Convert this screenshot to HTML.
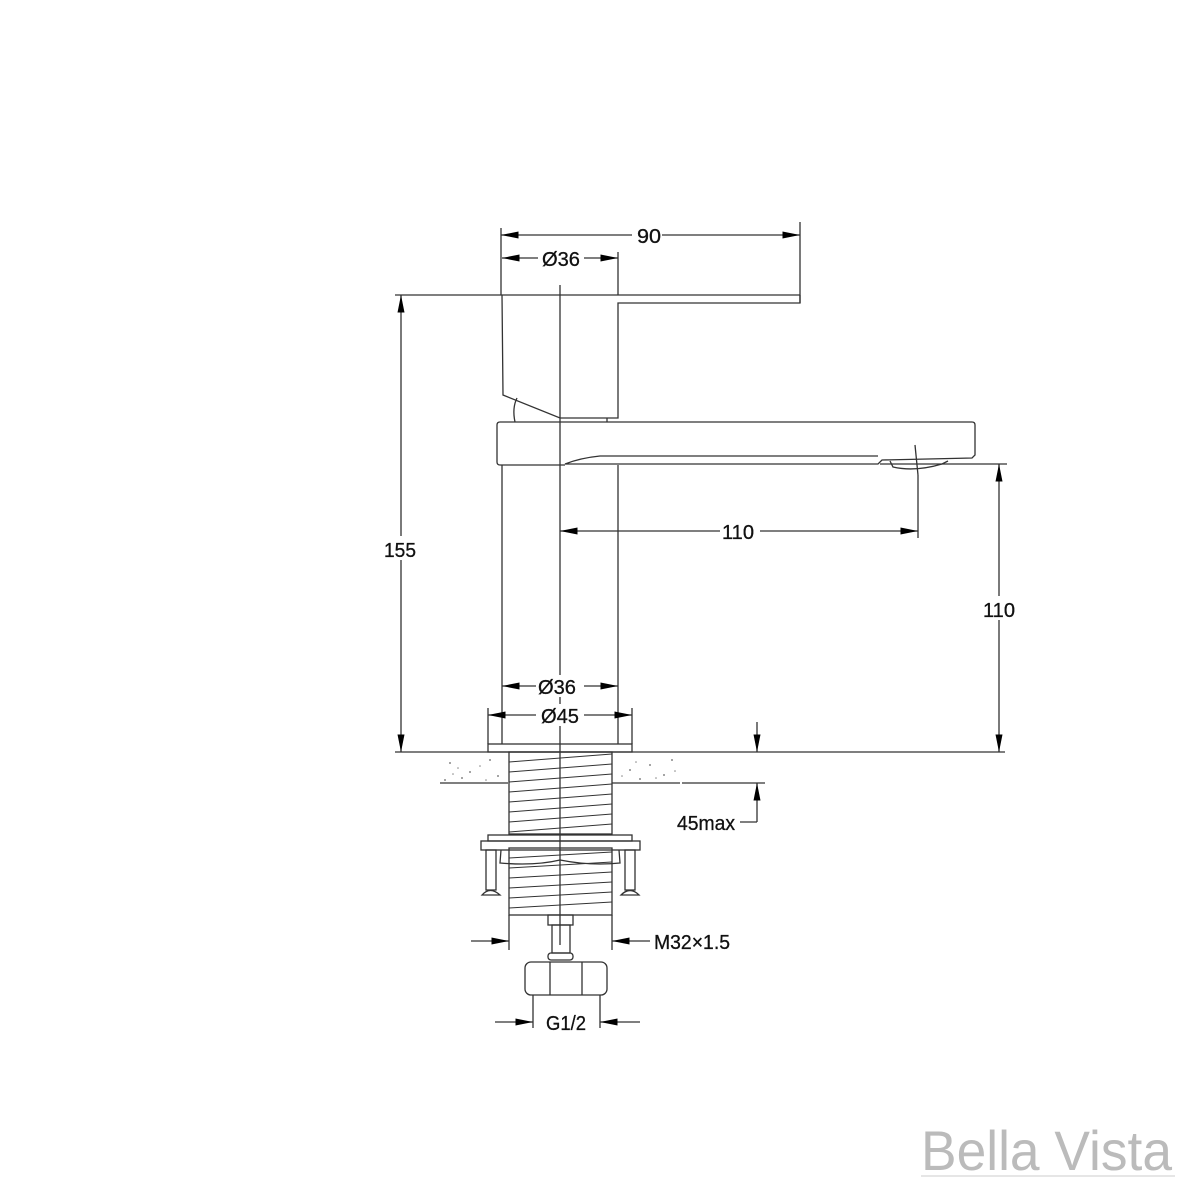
<!DOCTYPE html>
<html><head><meta charset="utf-8"><style>
html,body{margin:0;padding:0;background:#fff}
svg{display:block}
text{font-family:"Liberation Sans",Arial,sans-serif;fill:#111}
</style></head><body>
<svg width="1200" height="1200" viewBox="0 0 1200 1200" xmlns="http://www.w3.org/2000/svg">
<defs>
<marker id="a" viewBox="0 0 10 4" refX="10" refY="2" markerWidth="18" markerHeight="7" markerUnits="userSpaceOnUse" orient="auto-start-reverse"><path d="M0,0L10,2L0,4z" fill="#000"/></marker>
</defs>
<g stroke="#333" stroke-width="1.3" fill="none">
<line x1="395" y1="295" x2="800" y2="295"/>
<line x1="501" y1="228" x2="501" y2="295"/>
<line x1="800" y1="222" x2="800" y2="303"/>
<line x1="618" y1="252" x2="618" y2="295"/>
<path d="M502,295 L503,395 L560,418 L618,418 L618,303 L800,303 L800,295"/>
<path d="M515,422 Q512,408 517,398"/>
<line x1="607" y1="418" x2="607" y2="422"/>
<path d="M500,422 L972,422 Q975,422 975,425 L975,455 L972,458 L882,460 L878,464 L565,464 Q580,458 600,456 L878,456"/>
<path d="M500,422 Q497,422 497,425 L497,462 Q497,465 500,465 L565,465"/>
<path d="M890,461 L893,467 Q915,472 942,464 L948,461" />
<line x1="880" y1="464" x2="1007" y2="464"/>
<line x1="915" y1="445" x2="918" y2="475"/>
<line x1="502" y1="465" x2="502" y2="744"/>
<line x1="618" y1="465" x2="618" y2="744"/>
<rect x="488" y="744" width="144" height="8"/>
<line x1="560" y1="285" x2="560" y2="945"/>
<line x1="395" y1="752" x2="1005" y2="752"/>
<line x1="440" y1="783" x2="508" y2="783"/>
<line x1="612" y1="783" x2="680" y2="783"/>
<line x1="682" y1="783" x2="765" y2="783"/>
<rect x="509" y="752" width="103" height="82"/>
<rect x="509" y="848" width="103" height="67"/>
<g stroke-width="0.9">
<path d="M509,762L612,754M509,772L612,764M509,782L612,774M509,792L612,784M509,802L612,794M509,812L612,804M509,822L612,814M509,832L612,824M509,858L612,852M509,868L612,862M509,878L612,872M509,888L612,882M509,898L612,892M509,908L612,902"/>
</g>
<rect x="488" y="835" width="144" height="6"/>
<rect x="481" y="841" width="159" height="9"/>
<path d="M501,850 L500,863 Q535,866 560,860 Q590,866 620,863 L619,850"/>
<rect x="486" y="850" width="10" height="40"/><rect x="625" y="850" width="10" height="40"/>
<path d="M482,895 Q490,886 500,895 Z M621,895 Q630,886 639,895 Z"/>
<rect x="548" y="915" width="25" height="10"/>
<rect x="552" y="925" width="18" height="28"/>
<rect x="548" y="953" width="25" height="7" rx="3"/>
<rect x="525" y="962" width="82" height="33" rx="6"/>
<line x1="550" y1="962" x2="550" y2="995"/><line x1="582" y1="962" x2="582" y2="995"/>
<line x1="501" y1="235" x2="800" y2="235" marker-start="url(#a)" marker-end="url(#a)"/>
<line x1="502" y1="258" x2="618" y2="258" marker-start="url(#a)" marker-end="url(#a)"/>
<line x1="401" y1="295" x2="401" y2="752" marker-start="url(#a)" marker-end="url(#a)"/>
<line x1="560" y1="531" x2="918" y2="531" marker-start="url(#a)" marker-end="url(#a)"/>
<line x1="918" y1="475" x2="918" y2="538"/>
<line x1="999" y1="464" x2="999" y2="752" marker-start="url(#a)" marker-end="url(#a)"/>
<line x1="502" y1="686" x2="618" y2="686" marker-start="url(#a)" marker-end="url(#a)"/>
<line x1="488" y1="715" x2="632" y2="715" marker-start="url(#a)" marker-end="url(#a)"/>
<line x1="488" y1="708" x2="488" y2="744"/><line x1="632" y1="708" x2="632" y2="744"/>
<line x1="757" y1="722" x2="757" y2="752" marker-end="url(#a)"/>
<path d="M757,822 L757,783" marker-end="url(#a)"/>
<line x1="740" y1="822" x2="757" y2="822"/>
<line x1="471" y1="941" x2="509" y2="941" marker-end="url(#a)"/>
<line x1="650" y1="941" x2="612" y2="941" marker-end="url(#a)"/>
<line x1="509" y1="915" x2="509" y2="950"/><line x1="612" y1="915" x2="612" y2="950"/>
<line x1="495" y1="1022" x2="533" y2="1022" marker-end="url(#a)"/>
<line x1="640" y1="1022" x2="600" y2="1022" marker-end="url(#a)"/>
<line x1="533" y1="995" x2="533" y2="1028"/><line x1="600" y1="995" x2="600" y2="1028"/>
</g>
<g fill="#888">
<circle cx="450" cy="763" r="1"/><circle cx="470" cy="772" r="1"/><circle cx="490" cy="760" r="1"/><circle cx="462" cy="778" r="1"/><circle cx="498" cy="776" r="1"/><circle cx="445" cy="780" r="1"/><circle cx="630" cy="770" r="1"/><circle cx="650" cy="765" r="1"/><circle cx="664" cy="775" r="1"/><circle cx="640" cy="779" r="1"/><circle cx="672" cy="760" r="1"/>
<circle cx="458" cy="768" r="0.8"/><circle cx="480" cy="766" r="0.8"/><circle cx="453" cy="774" r="0.8"/><circle cx="486" cy="780" r="0.8"/><circle cx="636" cy="762" r="0.8"/><circle cx="656" cy="778" r="0.8"/><circle cx="675" cy="771" r="0.8"/><circle cx="622" cy="776" r="0.8"/>
</g>
<g font-size="20" stroke="#111" stroke-width="0.3">
<rect x="632" y="224" width="30" height="22" fill="#fff" stroke="none"/><text x="637" y="243" textLength="24" lengthAdjust="spacingAndGlyphs">90</text>
<rect x="538" y="247" width="46" height="22" fill="#fff" stroke="none"/><text x="542" y="266" textLength="38" lengthAdjust="spacingAndGlyphs">Ø36</text>
<rect x="384" y="536" width="34" height="24" fill="#fff" stroke="none"/><text x="384" y="557" textLength="32" lengthAdjust="spacingAndGlyphs">155</text>
<rect x="720" y="520" width="40" height="22" fill="#fff" stroke="none"/><text x="722" y="539" textLength="32" lengthAdjust="spacingAndGlyphs">110</text>
<rect x="980" y="596" width="38" height="24" fill="#fff" stroke="none"/><text x="983" y="617" textLength="32" lengthAdjust="spacingAndGlyphs">110</text>
<rect x="536" y="675" width="48" height="22" fill="#fff" stroke="none"/><text x="538" y="694" textLength="38" lengthAdjust="spacingAndGlyphs">Ø36</text>
<rect x="536" y="704" width="48" height="22" fill="#fff" stroke="none"/><text x="541" y="723" textLength="38" lengthAdjust="spacingAndGlyphs">Ø45</text>
<text x="677" y="830" textLength="58" lengthAdjust="spacingAndGlyphs">45max</text>
<text x="654" y="949" textLength="76" lengthAdjust="spacingAndGlyphs">M32×1.5</text>
<rect x="540" y="1011" width="52" height="22" fill="#fff" stroke="none"/><text x="546" y="1030" textLength="40" lengthAdjust="spacingAndGlyphs">G1/2</text>
</g>
<text x="921" y="1170" font-size="56" textLength="251" lengthAdjust="spacingAndGlyphs" style="fill:#bbb">Bella Vista</text>
<line x1="921" y1="1176" x2="1175" y2="1176" stroke="#ccc" stroke-width="1"/>
</svg>
</body></html>
